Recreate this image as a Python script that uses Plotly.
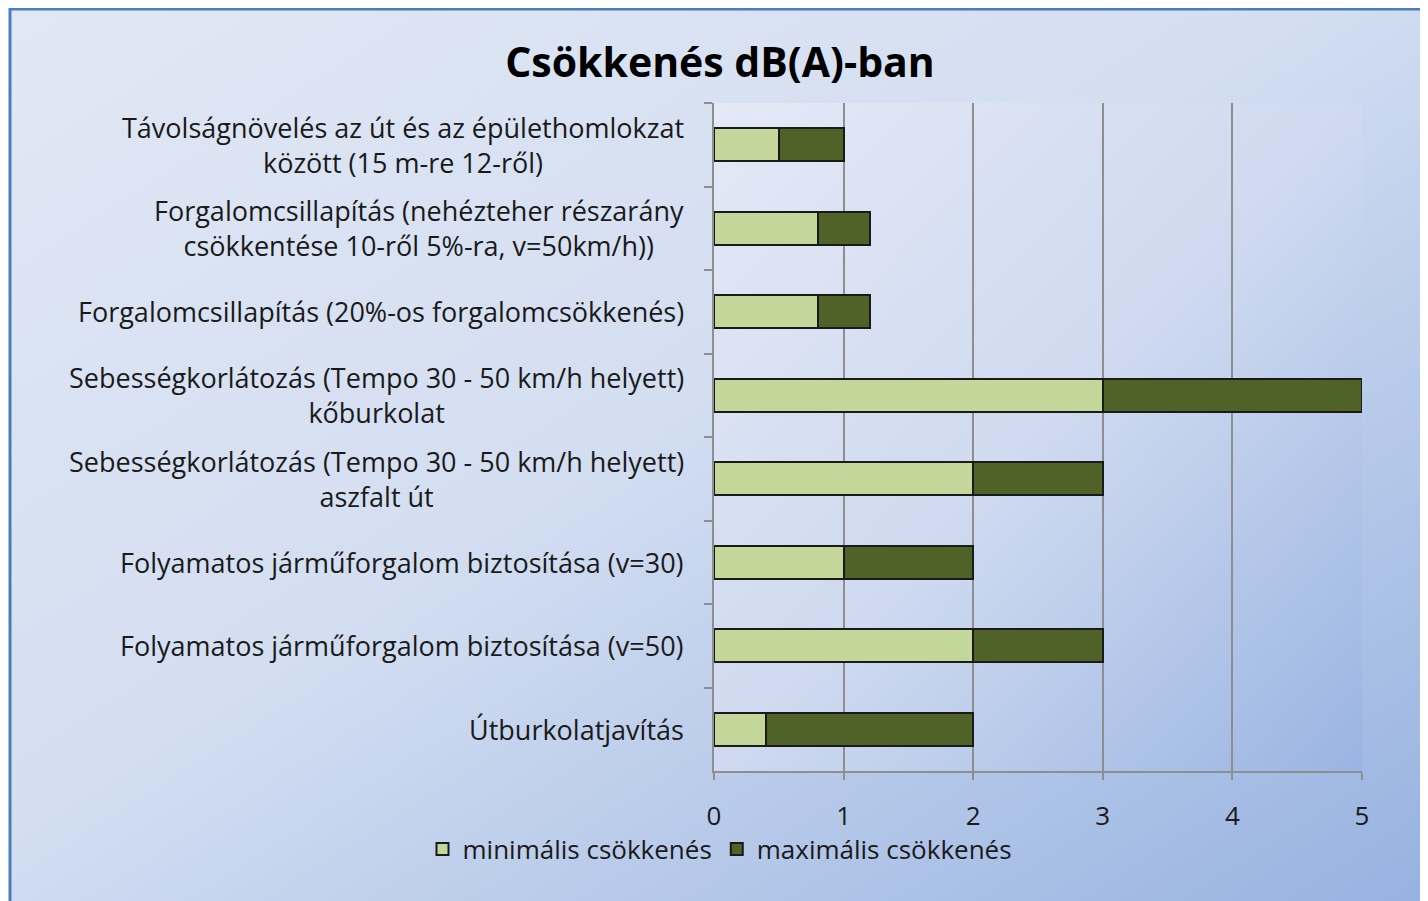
import base64
import plotly.graph_objects as go

categories = [
    "Távolságnövelés az út és az épülethomlokzat<br>között (15 m-re 12-ről)",
    "Forgalomcsillapítás (nehézteher részarány<br>csökkentése 10-ről 5%-ra, v=50km/h))",
    "Forgalomcsillapítás (20%-os forgalomcsökkenés)",
    "Sebességkorlátozás (Tempo 30 - 50 km/h helyett)<br>kőburkolat",
    "Sebességkorlátozás (Tempo 30 - 50 km/h helyett)<br>aszfalt út",
    "Folyamatos járműforgalom biztosítása (v=30)",
    "Folyamatos járműforgalom biztosítása (v=50)",
    "Útburkolatjavítás",
]
min_values = [0.5, 0.8, 0.8, 3, 2, 1, 2, 0.4]
max_extra_values = [0.5, 0.4, 0.4, 2, 1, 1, 1, 1.6]
series_names = ["minimális csökkenés", "maximális csökkenés"]
x_ticks = [0, 1, 2, 3, 4, 5]
title_text = "Csökkenés dB(A)-ban"

FONT = "Open Sans"
OFF = 8  # page body margin
W, H = 1428 - OFF, 901 - OFF
# target screen pixels of plot area
SPL, SPR, SPT, SPB = 714, 1362, 103, 771
PL, PR, PT, PB = SPL - OFF, SPR - OFF, SPT - OFF, SPB - OFF
pw, ph = PR - PL, PB - PT


def sx(px):  # screen px -> paper x
    return (px - SPL) / pw


def sy(py):  # screen px -> paper y
    return (SPB - py) / ph


def svg_uri(svg):
    return "data:image/svg+xml;base64," + base64.b64encode(svg.encode()).decode()


chart_bg = svg_uri(
    '<svg xmlns="http://www.w3.org/2000/svg" width="1000" height="1000" preserveAspectRatio="none">'
    '<defs><linearGradient id="g" x1="0" y1="0" x2="1" y2="1">'
    '<stop offset="0" stop-color="#e1e8f5"/><stop offset="0.45" stop-color="#d3def1"/>'
    '<stop offset="1" stop-color="#95b1e0"/></linearGradient></defs>'
    '<rect width="1000" height="1000" fill="url(#g)"/></svg>'
)
plot_bg = svg_uri(
    '<svg xmlns="http://www.w3.org/2000/svg" width="1000" height="1000" preserveAspectRatio="none">'
    '<defs><linearGradient id="g" x1="0" y1="0" x2="1" y2="1">'
    '<stop offset="0" stop-color="#e3e9f6"/><stop offset="0.5" stop-color="#cfdaf0"/>'
    '<stop offset="1" stop-color="#9ab4e2"/></linearGradient></defs>'
    '<rect width="1000" height="1000" fill="url(#g)"/></svg>'
)

fig = go.Figure()
fig.add_trace(go.Bar(
    y=categories, x=min_values, orientation="h", name=series_names[0],
    marker=dict(color="#c4d79b", line=dict(color="#1a1a1a", width=2)),
    width=0.4,
))
fig.add_trace(go.Bar(
    y=categories, x=max_extra_values, orientation="h", name=series_names[1],
    marker=dict(color="#4f6228", line=dict(color="#1a1a1a", width=2)),
    width=0.4,
))

annotations = []
for c in categories:
    annotations.append(dict(
        x=sx(686), xref="paper", y=c, yref="y",
        text=c, showarrow=False, xanchor="right", yanchor="middle", align="center",
        font=dict(family=FONT, size=27, color="#1a1a1a"),
    ))

bx0, by0 = 10, 9
fig.update_layout(
    width=W, height=H,
    margin=dict(l=PL, r=W - PR, t=PT, b=H - PB, pad=0),
    barmode="stack",
    paper_bgcolor="white",
    plot_bgcolor="rgba(0,0,0,0)",
    title=dict(text="<b>" + title_text + "</b>", x=(720 - OFF) / W, xanchor="center",
               y=1 - (63 - OFF) / H, yanchor="middle",
               font=dict(family=FONT, size=41, color="#000000")),
    font=dict(family=FONT, size=26, color="#1a1a1a"),
    xaxis=dict(range=[0, 5], tickvals=x_ticks, showgrid=True, gridcolor="#8e8e8e", gridwidth=1.5,
               showline=True, linecolor="#8e8e8e", linewidth=1.5, ticks="outside", ticklen=7,
               tickcolor="#8e8e8e", tickwidth=1.5, zeroline=False,
               tickfont=dict(family=FONT, size=26, color="#1a1a1a"), ticklabelstandoff=14),
    yaxis=dict(autorange="reversed", showticklabels=False, showline=True, linecolor="#8e8e8e",
               linewidth=1.5, ticks="outside", ticklen=8, tickcolor="#8e8e8e", tickwidth=1.5,
               tickson="boundaries", showgrid=False, zeroline=False),
    legend=dict(orientation="h", x=sx(720), xanchor="center",
                y=sy(849), yanchor="middle", bgcolor="rgba(0,0,0,0)",
                traceorder="normal",
                font=dict(family=FONT, size=26, color="#1a1a1a"),
                itemwidth=30, tracegroupgap=0),
    showlegend=True,
    annotations=annotations,
    images=[
        dict(source=chart_bg, xref="paper", yref="paper",
             x=sx(bx0), y=sy(by0),
             sizex=(1448 - bx0) / pw, sizey=(921 - by0) / ph,
             sizing="stretch", xanchor="left", yanchor="top", layer="below"),
        dict(source=plot_bg, xref="paper", yref="paper", x=0, y=1, sizex=1, sizey=1,
             sizing="stretch", xanchor="left", yanchor="top", layer="below"),
    ],
    shapes=[
        dict(type="rect", xref="paper", yref="paper",
             x0=sx(bx0), y0=sy(921), x1=sx(1448), y1=sy(by0),
             line=dict(color="#4a7ebb", width=3), fillcolor="rgba(0,0,0,0)", layer="above"),
    ],
)

fig.write_html("out.html")
